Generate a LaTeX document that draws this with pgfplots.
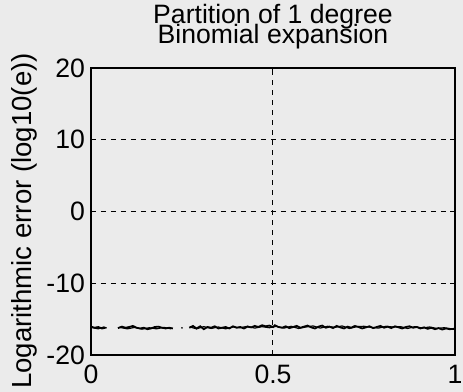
\documentclass[border=0pt]{standalone}
\usepackage{fontspec}
\setmainfont{Liberation Sans}
\usepackage{pgfplots}
\pgfplotsset{compat=1.18}
\definecolor{paper}{gray}{0.92}
\pgfplotstableread{
x y
0.000 -16.05
0.010 -16.20
0.020 -16.10
0.030 -16.30
0.040 -16.20
0.046 nan
0.074 -16.25
0.085 -16.05
0.095 -16.20
0.105 -16.10
0.115 -15.95
0.125 -16.20
0.135 -16.30
0.145 -16.20
0.155 -16.40
0.165 -16.30
0.175 -16.10
0.185 -16.05
0.195 -16.20
0.205 -16.30
0.215 -16.20
0.225 -16.30
0.236 nan
0.270 -16.20
0.280 -15.95
0.290 -16.30
0.300 -16.00
0.310 -16.40
0.320 -16.10
0.330 -16.20
0.340 -16.00
0.350 -16.30
0.360 -16.20
0.370 -16.10
0.380 -16.30
0.390 -16.00
0.400 -16.20
0.410 -16.10
0.420 -16.30
0.430 -16.05
0.440 -16.15
0.450 -15.95
0.460 -16.10
0.470 -15.85
0.480 -16.00
0.490 -15.90
0.500 -16.10
0.505 -15.85
0.515 -16.10
0.525 -16.20
0.535 -16.00
0.545 -16.25
0.555 -16.10
0.565 -15.95
0.575 -16.20
0.585 -16.05
0.595 -15.90
0.605 -16.15
0.615 -16.30
0.625 -16.05
0.635 -15.90
0.645 -16.20
0.655 -16.05
0.665 -16.25
0.675 -15.95
0.685 -16.15
0.695 -16.30
0.705 -16.05
0.715 -16.20
0.725 -15.95
0.735 -16.10
0.745 -16.30
0.755 -16.15
0.765 -16.00
0.775 -16.25
0.785 -16.10
0.795 -15.95
0.805 -16.20
0.815 -16.05
0.825 -16.25
0.835 -16.00
0.845 -16.15
0.855 -16.30
0.865 -16.10
0.875 -16.00
0.885 -16.20
0.895 -16.10
0.905 -16.30
0.915 -16.15
0.925 -16.35
0.935 -16.20
0.945 -16.40
0.955 -16.25
0.965 -16.45
0.975 -16.30
0.985 -16.40
1.000 -16.35
}\seriesA
\pgfplotstableread{
x y
0.000 -16.15
0.020 -16.35
0.035 -16.10
0.043 -16.25
0.048 nan
0.078 -16.15
0.100 -16.35
0.120 -16.15
0.140 -16.40
0.160 -16.20
0.180 -16.35
0.200 -16.15
0.220 -16.35
0.232 nan
0.248 -16.20
0.252 -16.25
0.256 nan
0.272 -16.10
0.290 -16.35
0.310 -16.05
0.330 -16.30
0.350 -16.10
0.370 -16.35
0.390 -16.10
0.410 -16.20
0.430 -16.00
0.450 -16.25
0.470 -16.05
0.490 -16.20
0.510 -16.00
0.530 -16.25
0.550 -16.00
0.570 -16.30
0.590 -16.10
0.610 -15.95
0.630 -16.25
0.650 -16.00
0.670 -16.15
0.690 -15.95
0.710 -16.30
0.730 -16.05
0.750 -16.00
0.770 -16.15
0.790 -16.25
0.810 -16.00
0.830 -16.10
0.850 -16.05
0.870 -16.30
0.890 -16.05
0.910 -16.25
0.930 -16.10
0.950 -16.30
0.970 -16.20
0.990 -16.35
1.000 -16.30
}\seriesB
\begin{document}
\begin{tikzpicture}
\fill[paper] (-45.5pt,-18.5pt) rectangle (186pt,177.5pt);
\begin{axis}[
  at={(0,0)}, anchor=south west, scale only axis,
  width=182pt, height=143.5pt,
  xmin=0, xmax=1, ymin=-20, ymax=20,
  xtick={0,0.5,1}, ytick={-20,-10,0,10,20},
  xticklabels={0,0.5,1}, yticklabels={-20,-10,0,10,20},
  grid=major,
  grid style={dash pattern=on 2.5pt off 2.5pt, line width=0.5pt, black},
  axis line style={line width=0.7pt, black},
  tick style={black, line width=0.5pt},
  major tick length=2.5pt,
  tick label style={font=\fontsize{13.3}{15}\selectfont, black},
  xticklabel style={yshift=-1.5pt},
  yticklabel style={xshift=0.5pt},
  unbounded coords=jump,
]
\addplot[black, line width=0.9pt] table {\seriesA};
\addplot[black, line width=0.6pt] table {\seriesB};
\end{axis}
\node[anchor=base, align=center, inner sep=0pt,
  font={\fontsize{13.3}{10}\selectfont\lineskiplimit=-30pt}] at (91pt,155.5pt)
  {Partition of 1 degree\\Binomial expansion};
\node[rotate=90, font=\fontsize{13.8}{15}\selectfont] at (-33.5pt,67pt) {Logarithmic error (log10(e))};
\pgfresetboundingbox
\path (-45.5pt,-18.5pt) rectangle (186pt,177.5pt);
\end{tikzpicture}
\end{document}
